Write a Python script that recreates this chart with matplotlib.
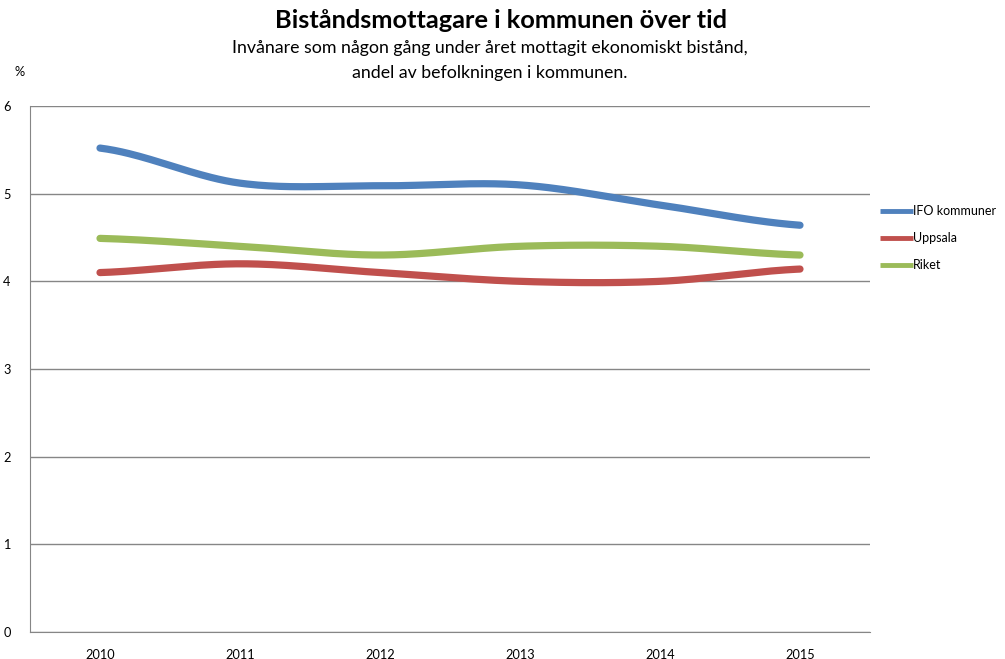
import numpy as np
import matplotlib
matplotlib.use('Agg')
import matplotlib.pyplot as plt

years = ['2010', '2011', '2012', '2013', '2014', '2015']
ifo = [5.52, 5.12, 5.09, 5.10, 4.87, 4.64]
uppsala = [4.10, 4.20, 4.10, 4.00, 4.00, 4.14]
riket = [4.49, 4.40, 4.30, 4.40, 4.40, 4.30]
series = [('IFO kommuner', ifo, '#4F81BD'),
          ('Uppsala', uppsala, '#C0504D'),
          ('Riket', riket, '#9BBB59')]


def smooth(y, n=40):
    # catmull-rom style curve through points, like excel's smoothed line
    y = np.asarray(y, float)
    x = np.arange(len(y), dtype=float)
    px = np.concatenate([[2 * x[0] - x[1]], x, [2 * x[-1] - x[-2]]])
    py = np.concatenate([[y[0]], y, [y[-1]]])
    xs, ys = [], []
    t = np.linspace(0, 1, n)
    for i in range(1, len(px) - 2):
        for arr, out in ((px, xs), (py, ys)):
            p0, p1, p2, p3 = arr[i - 1], arr[i], arr[i + 1], arr[i + 2]
            m1 = (p2 - p0) / 2
            m2 = (p3 - p1) / 2
            h00 = 2 * t**3 - 3 * t**2 + 1
            h10 = t**3 - 2 * t**2 + t
            h01 = -2 * t**3 + 3 * t**2
            h11 = t**3 - t**2
            out.extend(h00 * p1 + h10 * m1 + h01 * p2 + h11 * m2)
    return np.array(xs), np.array(ys)


plt.rcParams['font.family'] = ['Lato', 'DejaVu Sans']
fig = plt.figure(figsize=(10.05, 6.59), dpi=100)
ax = fig.add_axes([30 / 1005, 27 / 659, 840 / 1005, 526 / 659])

for name, vals, col in series:
    xs, ys = smooth(vals)
    ax.plot(xs, ys, color=col, lw=5.2, solid_capstyle='round', label=name)

ax.set_xlim(-0.5, len(years) - 0.5)
ax.set_ylim(0, 6)
ax.set_xticks(range(len(years)))
ax.set_xticklabels(years)
ax.set_yticks(range(7))
ax.tick_params(length=0, labelsize=9.2, pad=12)
ax.tick_params(axis='y', pad=14)
ax.grid(axis='y', color='#868686', lw=1)
ax.set_axisbelow(True)
for s in ['top', 'right']:
    ax.spines[s].set_visible(False)
for s in ['left', 'bottom']:
    ax.spines[s].set_color('#868686')

fig.text(501 / 1005, 1 - 20 / 659, 'Biståndsmottagare i kommunen över tid',
         ha='center', va='center', fontsize=18.3, fontweight='bold')
fig.text(490 / 1005, 1 - 48 / 659,
         'Invånare som någon gång under året mottagit ekonomiskt bistånd,',
         ha='center', va='center', fontsize=12.8)
fig.text(490 / 1005, 1 - 73 / 659, 'andel av befolkningen i kommunen.',
         ha='center', va='center', fontsize=12.8)
fig.text(20 / 1005, 1 - 72 / 659, '%', ha='center', va='center', fontsize=9.2)

leg = ax.legend(loc='upper left', bbox_to_anchor=(880 / 1005, 1 - 205 / 659),
                bbox_transform=fig.transFigure, frameon=False, fontsize=9.0,
                handlelength=2.6, handletextpad=0.05, labelspacing=1.2,
                borderaxespad=0, borderpad=0)
for h in leg.get_lines():
    h.set_linewidth(3.5)
    h.set_solid_capstyle('butt')

fig.savefig('out.png', dpi=100)
